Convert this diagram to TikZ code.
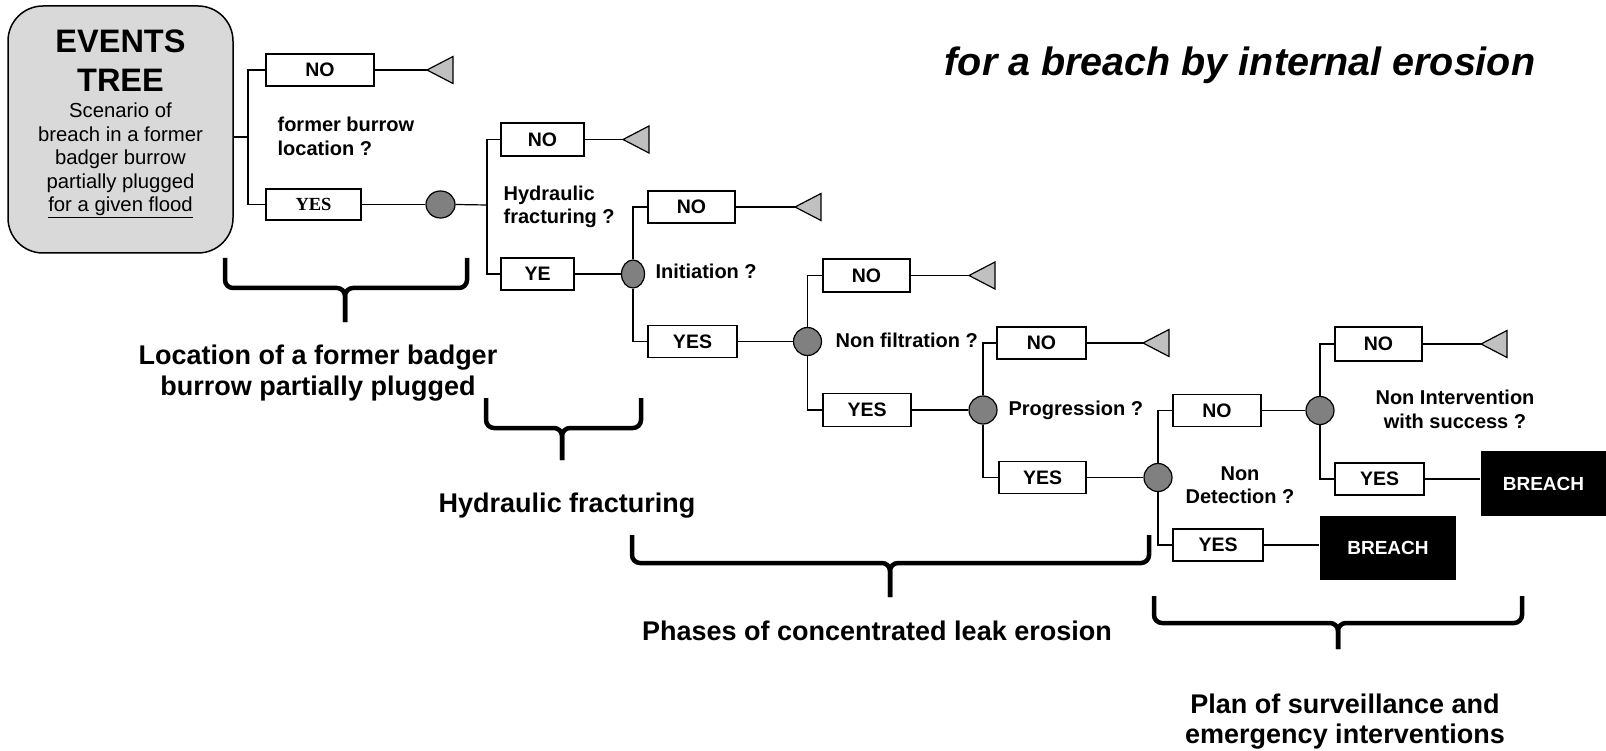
\documentclass[tikz,border=0pt]{standalone}
\usepackage{fontspec}
\setmainfont{Liberation Sans}
\newfontfamily\timesfont{Liberation Serif}
\usetikzlibrary{shapes.geometric}
\definecolor{boxgray}{RGB}{217,217,217}
\definecolor{nodegray}{RGB}{128,128,128}
\definecolor{tipgray}{RGB}{192,192,192}
\begin{document}
\begin{tikzpicture}[x=1pt,y=-1pt,line width=1.2pt,
  choice/.style={draw, fill=white, line width=1.3pt, minimum height=32pt,
    inner sep=0pt, font=\fontsize{19.5}{21}\selectfont\bfseries},
  chance/.style={circle, draw, fill=nodegray, line width=1.2pt,
    minimum size=28pt, inner sep=0pt},
  endtip/.style={draw, fill=tipgray, line width=1.2pt, line join=miter},
  breach/.style={fill=black, text=white, inner sep=0pt,
    font=\fontsize{19}{21}\selectfont\bfseries},
  question/.style={inner sep=0pt, font=\fontsize{20}{23.5}\selectfont\bfseries},
  phase/.style={inner sep=0pt, anchor=base, font=\fontsize{27}{31}\selectfont\bfseries},
  scen/.style={inner sep=0pt, anchor=base, font=\fontsize{20.3}{23}\selectfont},
  bracket/.style={line width=4.5pt, rounded corners=8pt}
]
\useasboundingbox (0,0) rectangle (1606,751);

% heading
\node[inner sep=0pt, anchor=base, font=\fontsize{39.5}{44}\selectfont\bfseries\itshape]
  (title) at (1240,76) {for a breach by internal erosion};

% events tree box
\node[draw, fill=boxgray, line width=1.5pt, rounded corners=35pt,
  minimum width=225pt, minimum height=247pt] (events) at (120.5,129.5) {};
\node[inner sep=0pt, anchor=base, font=\fontsize{32.5}{36}\selectfont\bfseries] (ev1) at (120.5,53) {EVENTS};
\node[inner sep=0pt, anchor=base, font=\fontsize{32.5}{36}\selectfont\bfseries] (ev2) at (120.5,92) {TREE};
\node[scen] (sc1) at (120.5,118) {Scenario of};
\node[scen] (sc2) at (120.5,141.5) {breach in a former};
\node[scen] (sc3) at (120.5,165) {badger burrow};
\node[scen] (sc4) at (120.5,188.5) {partially plugged};
\node[scen] (sc5) at (120.5,212) {\underline{for a given flood}};

% level 1
\node[choice, minimum width=108pt] (no1) at (320,70) {NO};
\node[choice, minimum width=95pt, minimum height=31pt,
  font=\fontsize{18.5}{20}\selectfont\timesfont\bfseries] (yes1) at (313.5,204.5) {YES};
\node[question, anchor=west, align=left] (q1) at (277,136.5) {former burrow\\location ?};
\coordinate (t1) at (427,70);
\node[chance, minimum width=29pt, minimum height=27pt, ellipse] (c1) at (440.5,204.5) {};

% level 2
\node[choice, minimum width=83pt, minimum height=33pt] (no2) at (542.5,139.5) {NO};
\node[choice, minimum width=73pt] (ye2) at (537.5,274) {YE};
\node[question, anchor=west, align=left] (q2) at (503,207) {Hydraulic\\fracturing ?};
\coordinate (t2) at (623,139.5);
\node[chance, ellipse, minimum width=23pt, minimum height=28pt] (e2) at (633,274) {};

% level 3
\node[choice, minimum width=87pt] (no3) at (691.5,207) {NO};
\node[choice, minimum width=89pt] (yes3) at (692.5,341.5) {YES};
\node[question, anchor=west] (q3) at (655,271) {Initiation ?};
\coordinate (t3) at (795,207);
\node[chance] (c3) at (807.5,341.5) {};

% level 4
\node[choice, minimum width=87pt, minimum height=33pt] (no4) at (866.5,275.5) {NO};
\node[choice, minimum width=88pt, minimum height=33pt] (yes4) at (867,410) {YES};
\node[question, anchor=west] (q4) at (835,340) {Non filtration ?};
\coordinate (t4) at (969,275.5);
\node[chance] (c4) at (983,410) {};

% level 5
\node[choice, minimum width=89pt] (no5) at (1041.5,343) {NO};
\node[choice, minimum width=87pt] (yes5) at (1042.5,477.5) {YES};
\node[question, anchor=west] (q5) at (1008,410) {Progression ?};
\coordinate (t5) at (1143,343);
\node[chance] (c5) at (1158,477.5) {};

% level 6
\node[choice, minimum width=88pt] (no6) at (1217,410.5) {NO};
\node[choice, minimum width=90pt] (yes6) at (1218,545) {YES};
\node[question, align=center] (q6) at (1240,485) {Non\\Detection ?};
\node[chance] (c6) at (1320,410.5) {};
\node[breach, minimum width=136pt, minimum height=64pt] (br1) at (1388,548) {BREACH};

% level 7
\node[choice, minimum width=87pt, minimum height=34pt] (no7) at (1378.5,344) {NO};
\node[choice, minimum width=89pt] (yes7) at (1379.5,479) {YES};
\node[question, align=center] (q7) at (1455,409.5) {Non Intervention\\with success ?};
\coordinate (t7) at (1481,344);
\node[breach, minimum width=125pt, minimum height=65pt] (br2) at (1543.5,483.5) {BREACH};

% branches
\coordinate (j1) at (248,137);
\draw (events.east |- j1) -- (j1);
\draw (j1) |- (no1.west);
\draw (j1) |- (yes1.west);
\draw (no1.east) -- (t1);
\draw (yes1.east) -- (c1.west);

\coordinate (j2) at (487,205);
\draw (c1.east) -- (j2);
\draw (j2) |- (no2.west);
\draw (j2) |- (ye2.west);
\draw (no2.east) -- (t2);
\draw (ye2.east) -- (e2.west);

\draw (e2.north) |- (no3.west);
\draw (e2.south) |- (yes3.west);
\draw (no3.east) -- (t3);
\draw (yes3.east) -- (c3.west);

\draw (c3.north) |- (no4.west);
\draw (c3.south) |- (yes4.west);
\draw (no4.east) -- (t4);
\draw (yes4.east) -- (c4.west);

\draw (c4.north) |- (no5.west);
\draw (c4.south) |- (yes5.west);
\draw (no5.east) -- (t5);
\draw (yes5.east) -- (c5.west);

\draw (c5.north) |- (no6.west);
\draw (c5.south) |- (yes6.west);
\draw (no6.east) -- (c6.west);
\draw (yes6.east) -- (yes6.east -| br1.west);

\draw (c6.north) |- (no7.west);
\draw (c6.south) |- (yes7.west);
\draw (no7.east) -- (t7);
\draw (yes7.east) -- (yes7.east -| br2.west);

% end-of-branch markers
\foreach \t in {t1,t2,t3,t4,t5,t7}
  \draw[endtip] (\t) -- ++(26,-13.5) -- ++(0,27) -- cycle;

% phase brackets
\draw[bracket] (225,258) -- (225,288) -- (345,288) -- (345,322);
\draw[bracket] (467,258) -- (467,288) -- (345,288) -- (345,322);
\draw[bracket] (486,398) -- (486,428) -- (562,428) -- (562,460);
\draw[bracket] (641,398) -- (641,428) -- (562,428) -- (562,460);
\draw[bracket] (632,535) -- (632,563) -- (890,563) -- (890,597);
\draw[bracket] (1149,535) -- (1149,563) -- (890,563) -- (890,597);
\draw[bracket] (1154,596) -- (1154,623) -- (1338,623) -- (1338,649);
\draw[bracket] (1522,596) -- (1522,623) -- (1338,623) -- (1338,649);

% phase labels
\node[phase] (p1a) at (318,364) {Location of a former badger};
\node[phase] (p1b) at (318,395) {burrow partially plugged};
\node[phase] (p2) at (567,512) {Hydraulic fracturing};
\node[phase] (p3) at (877,640) {Phases of concentrated leak erosion};
\node[phase] (p4a) at (1345,713) {Plan of surveillance and};
\node[phase] (p4b) at (1345,743) {emergency interventions};
\end{tikzpicture}
\end{document}
